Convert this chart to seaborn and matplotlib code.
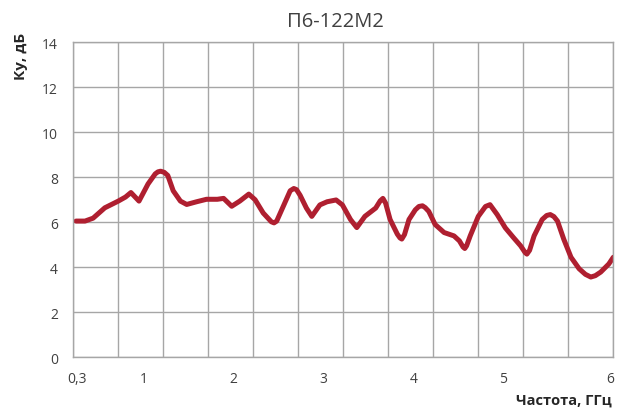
import matplotlib
matplotlib.use("Agg")
import matplotlib.pyplot as plt
import numpy as np
import pandas as pd
import seaborn as sns

# gain curve
freq_ghz = [0.25, 0.35, 0.44, 0.57, 0.72, 0.80, 0.86, 0.95, 1.05, 1.13,
            1.16, 1.19, 1.23, 1.27, 1.33, 1.41, 1.48, 1.59, 1.70, 1.82,
            1.89, 1.98, 2.07, 2.17, 2.24, 2.33, 2.42, 2.45, 2.48, 2.56,
            2.63, 2.67, 2.70, 2.74, 2.81, 2.87, 2.96, 3.04, 3.14, 3.21,
            3.30, 3.37, 3.46, 3.58, 3.63, 3.66, 3.69, 3.74, 3.82, 3.85,
            3.87, 3.90, 3.95, 4.02, 4.06, 4.10, 4.13, 4.17, 4.24, 4.34,
            4.45, 4.51, 4.55, 4.57, 4.59, 4.63, 4.72, 4.80, 4.85, 4.93,
            5.02, 5.11, 5.19, 5.24, 5.26, 5.29, 5.34, 5.43, 5.48, 5.52,
            5.56, 5.60, 5.67, 5.75, 5.84, 5.91, 5.97, 6.02, 6.08, 6.17,
            6.22]
gain_db = [6.05, 6.05, 6.18, 6.64, 6.94, 7.12, 7.32, 6.94, 7.70, 8.15,
           8.24, 8.27, 8.22, 8.08, 7.40, 6.94, 6.79, 6.91, 7.02, 7.02,
           7.06, 6.71, 6.94, 7.25, 7.00, 6.41, 6.02, 5.97, 6.05, 6.77,
           7.40, 7.50, 7.45, 7.20, 6.63, 6.26, 6.77, 6.91, 6.99, 6.77,
           6.12, 5.76, 6.26, 6.63, 6.95, 7.06, 6.85, 6.12, 5.47, 5.30,
           5.25, 5.45, 6.12, 6.55, 6.70, 6.73, 6.65, 6.48, 5.90, 5.54,
           5.39, 5.17, 4.90, 4.83, 4.95, 5.39, 6.26, 6.70, 6.78, 6.34,
           5.75, 5.32, 4.95, 4.65, 4.58, 4.75, 5.39, 6.12, 6.30, 6.34,
           6.25, 6.05, 5.24, 4.44, 3.93, 3.68, 3.56, 3.62, 3.78, 4.14,
           4.44]

title = "П6-122М2"
xtick_pos = [0.26, 1, 2, 3, 4, 5, 6.18]
xtick_labels = ["0,3", "1", "2", "3", "4", "5", "6"]
yticks = [0, 2, 4, 6, 8, 10, 12, 14]

df = pd.DataFrame({"freq": freq_ghz, "gain": gain_db})

sns.set_theme(style="white")
plt.rcParams["font.family"] = ["Open Sans", "DejaVu Sans"]

fig = plt.figure(figsize=(6.26, 4.10), dpi=100)
ax = fig.add_axes([0.1171, 0.1268, 0.8626, 0.7672])

sns.lineplot(data=df, x="freq", y="gain", ax=ax, sort=False,
             color="#AF1F30", linewidth=3.6, solid_joinstyle="round",
             solid_capstyle="round")

x0, x1 = 0.22, 6.22
ax.set_xlim(x0, x1)
ax.set_ylim(0, 14)
ax.set_xticks(xtick_pos)
ax.set_xticklabels(xtick_labels)
ax.set_xticks(np.arange(x0, x1 + 0.01, 0.5), minor=True)
ax.set_yticks(yticks)
ax.grid(which="minor", axis="x", color="#A6A6A6", linewidth=1.0)
ax.grid(which="major", axis="y", color="#A6A6A6", linewidth=1.0)
ax.grid(which="major", axis="x", visible=False)
ax.set_axisbelow(True)
ax.tick_params(which="both", length=0, labelsize=10, labelcolor="#404040")
ax.tick_params(axis="x", pad=10)
ax.tick_params(axis="y", pad=11)
for s in ax.spines.values():
    s.set_color("#A6A6A6")
    s.set_linewidth(1.0)
ax.set_xlabel("")
ax.set_ylabel("")

fig.text(335 / 626, 1 - 22 / 410, title, ha="center", va="center",
         fontsize=14.5, color="#404040")
fig.text(21 / 626, 1 - 56 / 410, "Ку, дБ", rotation=90, ha="center",
         va="center", fontsize=11, fontweight="bold", color="#262626")
fig.text(612 / 626, 1 - 401 / 410, "Частота, ГГц", ha="right",
         va="center", fontsize=10.5, fontweight="bold", color="#262626")

fig.savefig("out.png", dpi=100)
